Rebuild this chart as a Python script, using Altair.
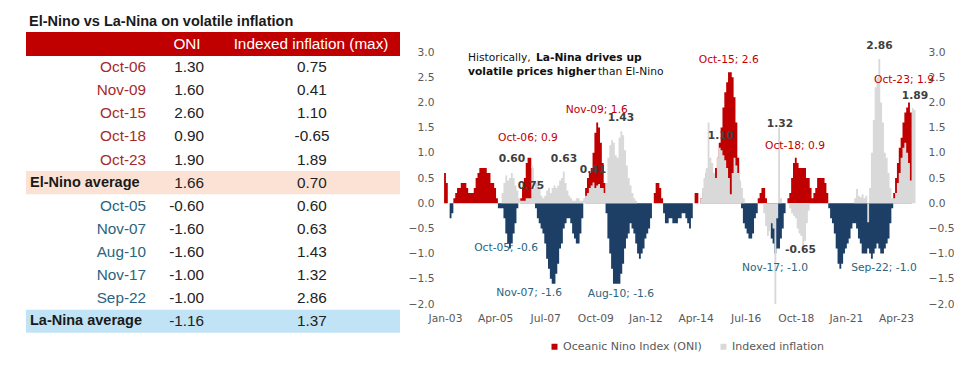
import json
import altair as alt
import pandas as pd

# ---------------- data ----------------
MONTHS = ["Jan", "Feb", "Mar", "Apr", "May", "Jun", "Jul", "Aug", "Sep", "Oct", "Nov", "Dec"]

el_nino_events = ["Oct-06", "Nov-09", "Oct-15", "Oct-18", "Oct-23"]
el_nino_oni = [1.30, 1.60, 2.60, 0.90, 1.90]
el_nino_infl = [0.75, 0.41, 1.10, -0.65, 1.89]

la_nina_events = ["Oct-05", "Nov-07", "Aug-10", "Nov-17", "Sep-22"]
la_nina_oni = [-0.60, -1.60, -1.60, -1.00, -1.00]
la_nina_infl = [0.60, 0.63, 1.43, 1.32, 2.86]

# Oceanic Nino Index, monthly from Jan-03 to Dec-23
oni_monthly = [
    0.6, 0.4, 0.0, -0.3, -0.2, 0.1, 0.2, 0.3, 0.3, 0.4, 0.4, 0.4,
    0.3, 0.2, 0.2, 0.2, 0.3, 0.5, 0.6, 0.7, 0.7, 0.7, 0.7, 0.6,
    0.6, 0.4, 0.4, 0.3, 0.1, -0.1, -0.1, -0.1, -0.3, -0.6, -0.8, -0.9,
    -0.8, -0.6, -0.4, -0.1, 0.0, 0.1, 0.3, 0.5, 0.8, 0.9, 0.9, 0.7,
    0.2, -0.1, -0.3, -0.4, -0.5, -0.6, -0.8, -1.1, -1.3, -1.5, -1.6, -1.6,
    -1.4, -1.2, -0.9, -0.8, -0.5, -0.4, -0.3, -0.3, -0.4, -0.6, -0.7, -0.8,
    -0.8, -0.6, -0.3, 0.0, 0.3, 0.5, 0.6, 0.7, 1.0, 1.4, 1.6, 1.5,
    1.2, 0.8, 0.4, -0.2, -0.7, -1.0, -1.3, -1.6, -1.6, -1.6, -1.6, -1.4,
    -1.2, -0.9, -0.7, -0.6, -0.4, -0.5, -0.6, -0.8, -1.0, -1.1, -1.0, -0.9,
    -0.7, -0.6, -0.5, -0.3, 0.0, 0.2, 0.4, 0.4, 0.3, 0.1, -0.2, -0.4,
    -0.4, -0.3, -0.3, -0.4, -0.4, -0.4, -0.3, -0.3, -0.2, -0.2, -0.3, -0.4,
    -0.5, -0.3, 0.0, 0.2, 0.2, 0.0, 0.1, 0.2, 0.5, 0.6, 0.7, 0.5,
    0.5, 0.5, 0.7, 0.9, 1.2, 1.5, 1.9, 2.2, 2.4, 2.6, 2.6, 2.5,
    2.1, 1.6, 0.9, 0.4, -0.1, -0.4, -0.5, -0.6, -0.7, -0.7, -0.6, -0.3,
    -0.2, 0.1, 0.2, 0.3, 0.3, 0.1, -0.1, -0.4, -0.7, -0.8, -1.0, -0.9,
    -0.9, -0.7, -0.5, -0.2, 0.0, 0.1, 0.2, 0.5, 0.8, 0.9, 0.8, 0.7,
    0.7, 0.7, 0.7, 0.5, 0.5, 0.3, 0.1, 0.2, 0.3, 0.5, 0.5, 0.5,
    0.5, 0.4, 0.2, -0.1, -0.3, -0.4, -0.6, -0.9, -1.2, -1.3, -1.2, -1.0,
    -0.9, -0.8, -0.7, -0.5, -0.4, -0.4, -0.5, -0.7, -0.8, -1.0, -1.0, -1.0,
    -0.9, -1.0, -1.1, -1.0, -0.9, -0.8, -0.9, -1.0, -1.0, -0.9, -0.8, -0.7,
    -0.4, -0.1, 0.2, 0.5, 0.8, 1.1, 1.3, 1.6, 1.8, 1.9, 2.0, 1.8,
]

# Indexed volatile inflation, monthly from Jan-03 to Feb-24
infl_monthly = [
    0, 0, 0, 0, 0, 0, 0, 0, 0, 0, 0, 0,
    0, 0, 0, 0, 0, 0, 0, 0, 0, 0, 0, 0,
    0, 0, 0, 0, 0, 0, 0, 0.2, 0.4, 0.55, 0.45, 0.5,
    0.60, 0.5, 0.35, 0.25, 0.1, 0.05, 0.05, 0.05, 0.1, 0.1, 0.1, 0.75,
    0.3, 0.4, 0.45, 0.3, 0.15, 0.1, 0.15, 0.25, 0.3, 0.2, 0.3, 0.35,
    0.3, 0.35, 0.45, 0.5, 0.63, 0.4, 0.25, 0.15, 0.1, 0.05, 0.05, 0.1,
    0.1, 0.05, 0.05, 0.1, 0.15, 0.2, 0.3, 0.35, 0.41, 0.3, 0.35, 0.38,
    0.3, 0.3, 0.2, 0.4, 0.9, 1.15, 1.25, 1.2, 0.95, 0.9, 1.3, 1.43,
    1.35, 1.05, 0.75, 0.5, 0.35, 0.2, 0.1, 0.05, 0, 0, 0, 0,
    0, 0, 0, 0, 0, 0, 0, 0, 0, 0, 0, 0,
    0, 0, 0, 0, 0, 0, 0, 0, 0, 0, 0, 0,
    0, 0, 0, 0, 0, 0, 0.1, 0.3, 0.5, 0.7, 1.6, 0.9,
    0.8, 0.6, 0.5, 0.9, 1.1, 1.05, 0.95, 0.85, 0.7, 0.5, 0.18, 0.6,
    0.9, 0.75, 0.6, 0.45, 0.3, 0.1, 0, 0, 0, 0, 0, 0,
    0, 0, 0, 0, -0.2, -0.45, -0.65, -0.55, -0.4, -0.5, -2.0, -0.3,
    1.5, 0.1, 0, 0, 0, 0, -0.1, -0.2, -0.25, -0.3, -0.5, -0.6,
    -0.65, -0.85, -0.75, -0.4, -0.15, 0, 0, 0, 0, 0, 0, 0,
    0, 0, 0, 0, 0, 0, 0, 0, 0, 0, 0, 0,
    0, 0, 0, 0, 0, 0.1, 0.28, 0.15, 0.12, 0.18, 0.1, 0.15,
    -0.38, 0.3, 1.0, 1.65, 2.3, 2.5, 2.86, 2.0, 1.6, 1.0, 0.9, 0.6,
    0.3, 0.1, 0.1, 0.2, 0.4, 0.6, 0.9, 1.1, 1.2, 1.0, 0.8, 0.45,
    1.89, 1.85,
]

tick_labels = ["Jan-03", "Apr-05", "Jul-07", "Oct-09", "Jan-12",
               "Apr-14", "Jul-16", "Oct-18", "Jan-21", "Apr-23"]
y_ticks = [-2.0, -1.5, -1.0, -0.5, 0.0, 0.5, 1.0, 1.5, 2.0, 2.5, 3.0]

# annotation placement (month index, value) for the data labels
el_oni_label_pos = [(44.7, 1.29), (81.8, 1.85), (152.9, 2.84), (188.6, 1.13), (247.3, 2.44)]
la_oni_label_pos = [(32.9, -0.89), (45.3, -1.78), (94.8, -1.80), (177.8, -1.29), (236.5, -1.29)]
el_infl_label_pos = [(46.3, 0.34), (79.7, 0.66), (148.7, 1.33), (191.5, -0.93), (253.2, 2.13)]
la_infl_label_pos = [(36.1, 0.88), (64.1, 0.88), (94.8, 1.69), (180.5, 1.57), (234.1, 3.12)]

ONI_NAME = "Oceanic Nino Index (ONI)"
INFL_NAME = "Indexed inflation"
NEG_NAME = "ONI negative"

RED = "#C00000"
NAVY = "#1D3F66"
GRAY = "#D9D9D9"
EL_TXT = "#A52B2B"
LA_TXT = "#2A6480"
TBL_FONT = "Liberation Sans"
CH_FONT = "DejaVu Sans"


def month_index(lbl):
    mon, yy = lbl.split("-")
    return (int(yy) - 3) * 12 + MONTHS.index(mon)


# ---------------- table (left) ----------------
ROW_H = 23.1
TBL_H = 340
TBL_W = 400
tbl_scale = alt.Scale(domain=[-36 / ROW_H, (TBL_H - 36) / ROW_H], reverse=True, nice=False, zero=False)
tbl_xscale = alt.Scale(domain=[0, TBL_W], nice=False, zero=False)

rows = []
for i, (ev, o, f) in enumerate(zip(el_nino_events, el_nino_oni, el_nino_infl)):
    rows.append(dict(row=1 + i, label=ev, oni=f"{o:.2f}", infl=f"{f:.2f}", kind="el"))
el_avg_oni = sum(el_nino_oni) / len(el_nino_oni)
el_avg_infl = sum(el_nino_infl) / len(el_nino_infl)
rows.append(dict(row=6, label="El-Nino average", oni=f"{el_avg_oni:.2f}", infl=f"{el_avg_infl:.2f}", kind="avg"))
for i, (ev, o, f) in enumerate(zip(la_nina_events, la_nina_oni, la_nina_infl)):
    rows.append(dict(row=7 + i, label=ev, oni=f"{o:.2f}", infl=f"{f:.2f}", kind="la"))
la_avg_oni = sum(la_nina_oni) / len(la_nina_oni)
la_avg_infl = sum(la_nina_infl) / len(la_nina_infl)
rows.append(dict(row=12, label="La-Nina average", oni=f"{la_avg_oni:.2f}", infl=f"{la_avg_infl:.2f}", kind="avg"))
tbl = pd.DataFrame(rows)

bands = pd.DataFrame({
    "lo": [-0.52, 5.5, 11.5],
    "hi": [0.52, 6.5, 12.5],
    "left": [18, 18, 18],
    "right": [392, 392, 392],
    "fill": [RED, "#FBE2D5", "#C0E4F5"],
})
header = pd.DataFrame({"row": [0, 0], "text": ["ONI", "Indexed inflation (max)"]})

ty = alt.Y("row:Q", scale=tbl_scale, axis=None)

band_layer = alt.Chart(bands).mark_rect().encode(
    x=alt.X("left:Q", scale=tbl_xscale, axis=None), x2="right:Q",
    y=alt.Y("lo:Q", scale=tbl_scale, axis=None), y2="hi:Q",
    color=alt.Color("fill:N", scale=None),
)
title_layer = alt.Chart(pd.DataFrame({"t": ["El-Nino vs La-Nina on volatile inflation"]})).mark_text(
    align="left", baseline="middle", font=TBL_FONT, fontSize=14.5, fontWeight="bold", color="#1a1a1a"
).encode(x=alt.value(21), y=alt.value(13.5), text="t:N")
hdr_oni = alt.Chart(header.iloc[[0]]).mark_text(
    align="center", baseline="middle", font=TBL_FONT, fontSize=15.3, color="white"
).encode(x=alt.value(179), y=ty, text="text:N")
hdr_inf = alt.Chart(header.iloc[[1]]).mark_text(
    align="center", baseline="middle", font=TBL_FONT, fontSize=15.3, color="white"
).encode(x=alt.value(303), y=ty, text="text:N")

base_t = alt.Chart(tbl)
el_lab = base_t.transform_filter("datum.kind == 'el'").mark_text(
    align="right", baseline="middle", font=TBL_FONT, fontSize=15.3, color=EL_TXT
).encode(x=alt.value(138), y=ty, text="label:N")
la_lab = base_t.transform_filter("datum.kind == 'la'").mark_text(
    align="right", baseline="middle", font=TBL_FONT, fontSize=15.3, color=LA_TXT
).encode(x=alt.value(138), y=ty, text="label:N")
avg_lab = base_t.transform_filter("datum.kind == 'avg'").mark_text(
    align="left", baseline="middle", font=TBL_FONT, fontSize=14.5, fontWeight="bold", color="#1a1a1a"
).encode(x=alt.value(22), y=ty, text="label:N")
oni_col = base_t.mark_text(
    align="right", baseline="middle", font=TBL_FONT, fontSize=15.3, color="#222222"
).encode(x=alt.value(196), y=ty, text="oni:N")
inf_col = base_t.mark_text(
    align="center", baseline="middle", font=TBL_FONT, fontSize=15.3, color="#222222"
).encode(x=alt.value(304), y=ty, text="infl:N")

table_chart = alt.layer(
    band_layer, title_layer, hdr_oni, hdr_inf, el_lab, la_lab, avg_lab, oni_col, inf_col
).properties(width=TBL_W, height=TBL_H)

# ---------------- column chart (right) ----------------
PX_PER_MONTH = 1.856
PLOT_W = 480
PLOT_H = 296
x_lo = -4 / PX_PER_MONTH
x_scale = alt.Scale(domain=[x_lo, x_lo + PLOT_W / PX_PER_MONTH], nice=False, zero=False)
y_scale = alt.Scale(domain=[-2.0, 3.0 + 44 / 50.4], nice=False, zero=False)

tick_values = [month_index(t) for t in tick_labels]
label_expr = f"{json.dumps(tick_labels)}[indexof({json.dumps(tick_values)}, datum.value)]"

x_axis = alt.Axis(values=tick_values, labelExpr=label_expr, title=None, labelPadding=9,
                  labelFont=CH_FONT, labelFontSize=10.7, labelColor="#595959")
left_axis = alt.Axis(values=y_ticks, format=".1f", title=None, labelPadding=7, orient="left",
                     minExtent=28, maxExtent=28, labelFont=CH_FONT, labelFontSize=10.7, labelColor="#595959")
right_axis = alt.Axis(values=y_ticks, format=".1f", title=None, labelPadding=7, orient="right",
                      minExtent=28, maxExtent=28, labelFont=CH_FONT, labelFontSize=10.7, labelColor="#595959")


def step_frame(values, series, clip=None):
    """Monthly columns as a step outline: each value spans its month (m-0.5 .. m+0.5)."""
    vals = list(values)
    if clip == "pos":
        vals = [max(v, 0.0) for v in vals]
    elif clip == "neg":
        vals = [min(v, 0.0) for v in vals]
    n = len(vals)
    xe = [m - 0.5 for m in range(n)] + [n - 0.5]
    ye = vals + [vals[-1]]
    return pd.DataFrame({"xe": xe, "val": ye, "zero": 0.0, "series": series})


color_scale = alt.Scale(domain=[ONI_NAME, INFL_NAME, NEG_NAME], range=[RED, GRAY, NAVY])
legend = alt.Legend(values=[ONI_NAME, INFL_NAME], title=None, orient="none", legendX=541, legendY=333,
                    direction="horizontal", symbolType="square", symbolSize=36, symbolStrokeWidth=0,
                    labelFont=CH_FONT, labelFontSize=11, labelColor="#595959", labelOffset=3,
                    columnPadding=16, padding=0)


def step_layer(df):
    return alt.Chart(df).mark_area(interpolate="step-after").encode(
        x=alt.X("xe:Q", scale=x_scale, axis=x_axis),
        y=alt.Y("val:Q", scale=y_scale, axis=left_axis), y2="zero:Q",
        color=alt.Color("series:N", scale=color_scale, legend=legend),
    )


oni_pos = step_layer(step_frame(oni_monthly, ONI_NAME, "pos"))
oni_neg = step_layer(step_frame(oni_monthly, NEG_NAME, "neg"))
inf_cols = step_layer(step_frame(infl_monthly, INFL_NAME))


def lab_df(pos, texts):
    return pd.DataFrame({"lx": [p[0] for p in pos], "ly": [p[1] for p in pos], "text": texts})


el_oni_texts = [f"{e}; {oni_monthly[month_index(e)]:.1f}" for e in el_nino_events]
la_oni_texts = [f"{e}; {oni_monthly[month_index(e)]:.1f}" for e in la_nina_events]
el_inf_texts = [f"{v:.2f}" for v in el_nino_infl]
la_inf_texts = [f"{v:.2f}" for v in la_nina_infl]


def text_layer(df, color, weight="normal"):
    return alt.Chart(df).mark_text(
        align="center", baseline="middle", font=CH_FONT, fontSize=10.7, fontWeight=weight, color=color
    ).encode(
        x=alt.X("lx:Q", scale=x_scale, axis=x_axis),
        y=alt.Y("ly:Q", scale=y_scale, axis=left_axis),
        text="text:N",
    )


inf_labels = text_layer(lab_df(el_infl_label_pos + la_infl_label_pos, el_inf_texts + la_inf_texts), "#404040", "bold")
el_labels = text_layer(lab_df(el_oni_label_pos, el_oni_texts), RED)
la_labels = text_layer(lab_df(la_oni_label_pos, la_oni_texts), LA_TXT)

note = pd.DataFrame({
    "text": ["Historically,", "La-Nina drives up", "volatile prices higher", "than El-Nino"],
    "lx": [12.4, 49.0, 12.4, 82.4],
    "ly": [2.877, 2.877, 2.60, 2.60],
    "w": ["normal", "bold", "bold", "normal"],
})
note_norm = alt.Chart(note[note.w == "normal"]).mark_text(
    align="left", baseline="middle", font=CH_FONT, fontSize=10.7, color="#111111"
).encode(x=alt.X("lx:Q", scale=x_scale, axis=x_axis), y=alt.Y("ly:Q", scale=y_scale, axis=left_axis), text="text:N")
note_bold = alt.Chart(note[note.w == "bold"]).mark_text(
    align="left", baseline="middle", font=CH_FONT, fontSize=10.7, fontWeight="bold", color="#111111"
).encode(x=alt.X("lx:Q", scale=x_scale, axis=x_axis), y=alt.Y("ly:Q", scale=y_scale, axis=left_axis), text="text:N")

main = alt.layer(oni_pos, oni_neg, inf_cols, inf_labels, el_labels, la_labels, note_norm, note_bold)

right_ax_layer = alt.Chart(pd.DataFrame({"v": y_ticks})).mark_point(opacity=0).encode(
    y=alt.Y("v:Q", scale=y_scale, axis=right_axis)
)

bar_chart = alt.layer(main, right_ax_layer).resolve_scale(y="independent").properties(
    width=PLOT_W, height=PLOT_H
)

chart = alt.hconcat(table_chart, bar_chart, spacing=0).properties(padding=0).configure_view(
    stroke=None
).configure_axis(grid=False, domain=False, ticks=False)

chart.save("out.html", embed_options={"renderer": "svg", "actions": False})
